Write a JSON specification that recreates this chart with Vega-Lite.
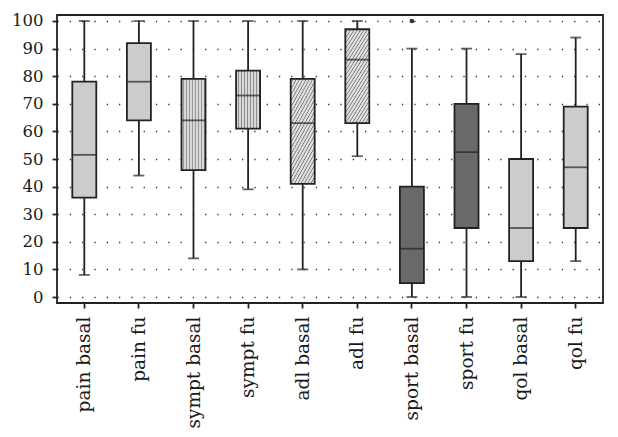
{
  "$schema": "https://vega.github.io/schema/vega-lite/v6.json",
  "width": 546,
  "height": 288,
  "autosize": "none",
  "padding": {"left": 57, "top": 15, "right": 15, "bottom": 134},
  "background": "white",
  "config": {
    "view": {"stroke": "#222222", "strokeWidth": 1.8},
    "font": "DejaVu Serif",
    "axisY": {
      "title": null,
      "labelFont": "DejaVu Serif",
      "labelFontSize": 16.5,
      "labelColor": "#1a1a1a",
      "labelPadding": 9,
      "labelOverlap": false,
      "labelFlush": false,
      "tickSize": 5,
      "tickWidth": 1.8,
      "tickColor": "#222222",
      "domain": false,
      "grid": true,
      "gridDash": [1.3, 11],
      "gridColor": "#333333",
      "gridWidth": 1.3
    }
  },
  "datasets": {
    "boxes": [
      {"group": "pain basal", "min": 8, "q1": 36, "median": 51.5, "q3": 78, "max": 100},
      {"group": "pain fu", "min": 44, "q1": 64, "median": 78, "q3": 92, "max": 100},
      {"group": "sympt basal", "min": 14, "q1": 46, "median": 64, "q3": 79, "max": 100},
      {"group": "sympt fu", "min": 39, "q1": 61, "median": 73, "q3": 82, "max": 100},
      {"group": "adl basal", "min": 10, "q1": 41, "median": 63, "q3": 79, "max": 100},
      {"group": "adl fu", "min": 51, "q1": 63, "median": 86, "q3": 97, "max": 100},
      {"group": "sport basal", "min": 0, "q1": 5, "median": 17.5, "q3": 40, "max": 90},
      {"group": "sport fu", "min": 0, "q1": 25, "median": 52.5, "q3": 70, "max": 90},
      {"group": "qol basal", "min": 0, "q1": 13, "median": 25, "q3": 50, "max": 88},
      {"group": "qol fu", "min": 13, "q1": 25, "median": 47, "q3": 69, "max": 94}
    ],
    "outliers": [
      {"group": "sport basal", "value": 100}
    ]
  },
  "data": {"name": "boxes"},
  "encoding": {
    "x": {
      "field": "group",
      "type": "nominal",
      "sort": ["pain basal", "pain fu", "sympt basal", "sympt fu", "adl basal", "adl fu", "sport basal", "sport fu", "qol basal", "qol fu"],
      "scale": {"paddingInner": 0, "paddingOuter": 0},
      "axis": {
        "title": null,
        "labelAngle": -90,
        "labelAlign": "right",
        "labelBaseline": "middle",
        "labelFont": "DejaVu Serif",
        "labelFontSize": 18.5,
        "labelColor": "#1a1a1a",
        "labelPadding": 8,
        "labelOverlap": false,
        "labelLimit": 0,
        "tickSize": 5,
        "tickWidth": 1.8,
        "tickColor": "#222222",
        "domain": false,
        "grid": false
      }
    }
  },
  "layer": [
    {
      "mark": {"type": "rule", "color": "#222222", "strokeWidth": 1.8},
      "encoding": {
        "y": {
          "field": "min",
          "type": "quantitative",
          "scale": {"domain": [-2.17, 102.17], "nice": false, "zero": false},
          "axis": {"values": [0, 10, 20, 30, 40, 50, 60, 70, 80, 90, 100]}
        },
        "y2": {"field": "max"}
      }
    },
    {
      "mark": {"type": "tick", "color": "#222222", "size": 11, "thickness": 1.8},
      "encoding": {"y": {"field": "min", "type": "quantitative", "axis": {"values": [0, 10, 20, 30, 40, 50, 60, 70, 80, 90, 100]}}}
    },
    {
      "mark": {"type": "tick", "color": "#222222", "size": 11, "thickness": 1.8},
      "encoding": {"y": {"field": "max", "type": "quantitative", "axis": {"values": [0, 10, 20, 30, 40, 50, 60, 70, 80, 90, 100]}}}
    },
    {
      "transform": [{"filter": {"field": "group", "oneOf": ["pain basal", "pain fu", "qol basal", "qol fu"]}}],
      "mark": {"type": "bar", "size": 24, "fill": "#cccccc", "stroke": "#222222", "strokeWidth": 1.8},
      "encoding": {"y": {"field": "q1", "type": "quantitative", "axis": {"values": [0, 10, 20, 30, 40, 50, 60, 70, 80, 90, 100]}}, "y2": {"field": "q3"}}
    },
    {
      "transform": [{"filter": {"field": "group", "oneOf": ["sport basal", "sport fu"]}}],
      "mark": {"type": "bar", "size": 24, "fill": "#696969", "stroke": "#222222", "strokeWidth": 1.8},
      "encoding": {"y": {"field": "q1", "type": "quantitative", "axis": {"values": [0, 10, 20, 30, 40, 50, 60, 70, 80, 90, 100]}}, "y2": {"field": "q3"}}
    },
    {
      "transform": [{"filter": {"field": "group", "oneOf": ["sympt basal", "sympt fu"]}}],
      "mark": {
        "type": "bar", "size": 24, "stroke": "#222222", "strokeWidth": 1.8,
        "fill": {
          "gradient": "linear", "x1": 0, "y1": 0, "x2": 1, "y2": 0,
          "stops": [
            {"offset": 0, "color": "#d8d8d8"}, {"offset": 0.0625, "color": "#d8d8d8"}, {"offset": 0.09375, "color": "#7a7a7a"},
            {"offset": 0.125, "color": "#d8d8d8"}, {"offset": 0.1875, "color": "#d8d8d8"}, {"offset": 0.21875, "color": "#7a7a7a"},
            {"offset": 0.25, "color": "#d8d8d8"}, {"offset": 0.3125, "color": "#d8d8d8"}, {"offset": 0.34375, "color": "#7a7a7a"},
            {"offset": 0.375, "color": "#d8d8d8"}, {"offset": 0.4375, "color": "#d8d8d8"}, {"offset": 0.46875, "color": "#7a7a7a"},
            {"offset": 0.5, "color": "#d8d8d8"}, {"offset": 0.5625, "color": "#d8d8d8"}, {"offset": 0.59375, "color": "#7a7a7a"},
            {"offset": 0.625, "color": "#d8d8d8"}, {"offset": 0.6875, "color": "#d8d8d8"}, {"offset": 0.71875, "color": "#7a7a7a"},
            {"offset": 0.75, "color": "#d8d8d8"}, {"offset": 0.8125, "color": "#d8d8d8"}, {"offset": 0.84375, "color": "#7a7a7a"},
            {"offset": 0.875, "color": "#d8d8d8"}, {"offset": 0.9375, "color": "#d8d8d8"}, {"offset": 0.96875, "color": "#7a7a7a"},
            {"offset": 1, "color": "#d8d8d8"}
          ]
        }
      },
      "encoding": {"y": {"field": "q1", "type": "quantitative", "axis": {"values": [0, 10, 20, 30, 40, 50, 60, 70, 80, 90, 100]}}, "y2": {"field": "q3"}}
    },
    {
      "transform": [{"filter": {"field": "group", "oneOf": ["adl basal", "adl fu"]}}],
      "mark": {
        "type": "bar", "size": 24, "stroke": "#222222", "strokeWidth": 1.8,
        "fill": {
          "gradient": "linear", "x1": 0, "y1": 0, "x2": 0.5, "y2": 1.21,
          "stops": [
            {"offset": 0, "color": "#e0e0e0"}, {"offset": 0.02, "color": "#e0e0e0"}, {"offset": 0.03, "color": "#6c6c6c"},
            {"offset": 0.04, "color": "#e0e0e0"}, {"offset": 0.06, "color": "#e0e0e0"}, {"offset": 0.07, "color": "#6c6c6c"},
            {"offset": 0.08, "color": "#e0e0e0"}, {"offset": 0.10, "color": "#e0e0e0"}, {"offset": 0.11, "color": "#6c6c6c"},
            {"offset": 0.12, "color": "#e0e0e0"}, {"offset": 0.14, "color": "#e0e0e0"}, {"offset": 0.15, "color": "#6c6c6c"},
            {"offset": 0.16, "color": "#e0e0e0"}, {"offset": 0.18, "color": "#e0e0e0"}, {"offset": 0.19, "color": "#6c6c6c"},
            {"offset": 0.20, "color": "#e0e0e0"}, {"offset": 0.22, "color": "#e0e0e0"}, {"offset": 0.23, "color": "#6c6c6c"},
            {"offset": 0.24, "color": "#e0e0e0"}, {"offset": 0.26, "color": "#e0e0e0"}, {"offset": 0.27, "color": "#6c6c6c"},
            {"offset": 0.28, "color": "#e0e0e0"}, {"offset": 0.30, "color": "#e0e0e0"}, {"offset": 0.31, "color": "#6c6c6c"},
            {"offset": 0.32, "color": "#e0e0e0"}, {"offset": 0.34, "color": "#e0e0e0"}, {"offset": 0.35, "color": "#6c6c6c"},
            {"offset": 0.36, "color": "#e0e0e0"}, {"offset": 0.38, "color": "#e0e0e0"}, {"offset": 0.39, "color": "#6c6c6c"},
            {"offset": 0.40, "color": "#e0e0e0"}, {"offset": 0.42, "color": "#e0e0e0"}, {"offset": 0.43, "color": "#6c6c6c"},
            {"offset": 0.44, "color": "#e0e0e0"}, {"offset": 0.46, "color": "#e0e0e0"}, {"offset": 0.47, "color": "#6c6c6c"},
            {"offset": 0.48, "color": "#e0e0e0"}, {"offset": 0.50, "color": "#e0e0e0"}, {"offset": 0.51, "color": "#6c6c6c"},
            {"offset": 0.52, "color": "#e0e0e0"}, {"offset": 0.54, "color": "#e0e0e0"}, {"offset": 0.55, "color": "#6c6c6c"},
            {"offset": 0.56, "color": "#e0e0e0"}, {"offset": 0.58, "color": "#e0e0e0"}, {"offset": 0.59, "color": "#6c6c6c"},
            {"offset": 0.60, "color": "#e0e0e0"}, {"offset": 0.62, "color": "#e0e0e0"}, {"offset": 0.63, "color": "#6c6c6c"},
            {"offset": 0.64, "color": "#e0e0e0"}, {"offset": 0.66, "color": "#e0e0e0"}, {"offset": 0.67, "color": "#6c6c6c"},
            {"offset": 0.68, "color": "#e0e0e0"}, {"offset": 0.70, "color": "#e0e0e0"}, {"offset": 0.71, "color": "#6c6c6c"},
            {"offset": 0.72, "color": "#e0e0e0"}, {"offset": 0.74, "color": "#e0e0e0"}, {"offset": 0.75, "color": "#6c6c6c"},
            {"offset": 0.76, "color": "#e0e0e0"}, {"offset": 0.78, "color": "#e0e0e0"}, {"offset": 0.79, "color": "#6c6c6c"},
            {"offset": 0.80, "color": "#e0e0e0"}, {"offset": 0.82, "color": "#e0e0e0"}, {"offset": 0.83, "color": "#6c6c6c"},
            {"offset": 0.84, "color": "#e0e0e0"}, {"offset": 0.86, "color": "#e0e0e0"}, {"offset": 0.87, "color": "#6c6c6c"},
            {"offset": 0.88, "color": "#e0e0e0"}, {"offset": 0.90, "color": "#e0e0e0"}, {"offset": 0.91, "color": "#6c6c6c"},
            {"offset": 0.92, "color": "#e0e0e0"}, {"offset": 0.94, "color": "#e0e0e0"}, {"offset": 0.95, "color": "#6c6c6c"},
            {"offset": 0.96, "color": "#e0e0e0"}, {"offset": 0.98, "color": "#e0e0e0"}, {"offset": 0.99, "color": "#6c6c6c"},
            {"offset": 1, "color": "#e0e0e0"}
          ]
        }
      },
      "encoding": {"y": {"field": "q1", "type": "quantitative", "axis": {"values": [0, 10, 20, 30, 40, 50, 60, 70, 80, 90, 100]}}, "y2": {"field": "q3"}}
    },
    {
      "mark": {"type": "tick", "color": "#222222", "size": 24, "thickness": 1.8},
      "encoding": {"y": {"field": "median", "type": "quantitative", "axis": {"values": [0, 10, 20, 30, 40, 50, 60, 70, 80, 90, 100]}}}
    },
    {
      "data": {"name": "outliers"},
      "mark": {"type": "circle", "color": "#333333", "size": 22, "opacity": 1},
      "encoding": {"y": {"field": "value", "type": "quantitative", "axis": {"values": [0, 10, 20, 30, 40, 50, 60, 70, 80, 90, 100]}}}
    }
  ]
}
